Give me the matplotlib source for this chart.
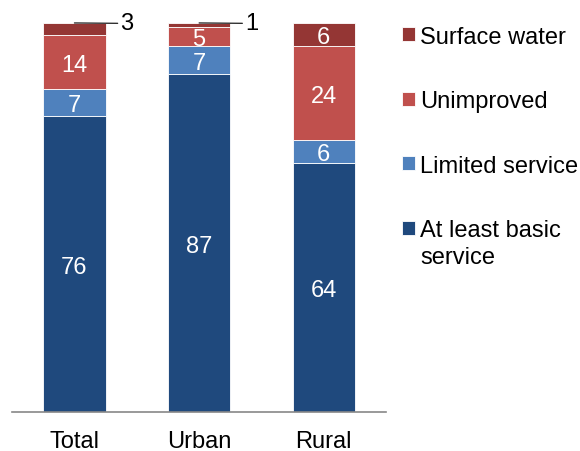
import numpy as np
import matplotlib.pyplot as plt

# data
categories = ['Total', 'Urban', 'Rural']
basic = [76, 87, 64]
limited = [7, 7, 6]
unimproved = [14, 5, 24]
surface = [3, 1, 6]

series = [('At least basic service', basic, '#1F497D'),
          ('Limited service', limited, '#4F81BD'),
          ('Unimproved', unimproved, '#C0504D'),
          ('Surface water', surface, '#943634')]

plt.rcParams['font.family'] = ['Liberation Sans', 'DejaVu Sans']

fig = plt.figure(figsize=(5.8, 4.52), dpi=100)
ax = fig.add_axes([0.0207, 0.0863, 0.645, 0.8607])

x = np.arange(len(categories))
bottom = np.zeros(len(categories))
handles = []
for name, vals, col in series:
    vals = np.array(vals, dtype=float)
    b = ax.bar(x, vals, width=0.5, bottom=bottom, color=col, edgecolor='white', linewidth=0.6, label=name)
    handles.append(b)
    for i, v in enumerate(vals):
        mid = bottom[i] + v / 2
        if v >= 5:
            ax.annotate(f'{int(v)}', xy=(x[i], mid), xytext=(0, -2), textcoords='offset points',
                        ha='center', va='center', color='white', fontsize=17)
        else:
            #small segments get a leader line from the top of the bar to a label on the right
            top = bottom[i] + v
            ax.annotate(f'{int(v)}', xy=(x[i], top), xytext=(x[i] + 0.37, top - 0.1),
                        ha='left', va='center', fontsize=17, color='black',
                        arrowprops=dict(arrowstyle='-', color='black', lw=0.8, shrinkA=0, shrinkB=0))
    bottom += vals

ax.set_xlim(-0.5, 2.5)
ax.set_ylim(0, 100)
ax.set_xticks(x)
ax.set_xticklabels(categories, fontsize=17)
ax.tick_params(axis='x', length=0, pad=13)
ax.set_yticks([])
for s in ['top', 'right', 'left']:
    ax.spines[s].set_visible(False)
ax.spines['bottom'].set_color('#888888')
ax.spines['bottom'].set_linewidth(1.2)

labels = ['Surface water', 'Unimproved', 'Limited service', 'At least basic']
leg = fig.legend(handles[::-1], labels, loc='upper left', bbox_to_anchor=(0.677, 0.962),
                 frameon=False, fontsize=17, handlelength=0.55, handleheight=0.55,
                 handletextpad=0.22, labelspacing=1.8, borderaxespad=0)

#second line of the last legend label, placed under the first
fig.canvas.draw()
bb = leg.get_texts()[-1].get_window_extent()
fig.text(bb.x0 / fig.bbox.width, (bb.y0 - 27) / fig.bbox.height, 'service',
         fontsize=17, ha='left', va='bottom')

fig.savefig('out.png', dpi=100)
